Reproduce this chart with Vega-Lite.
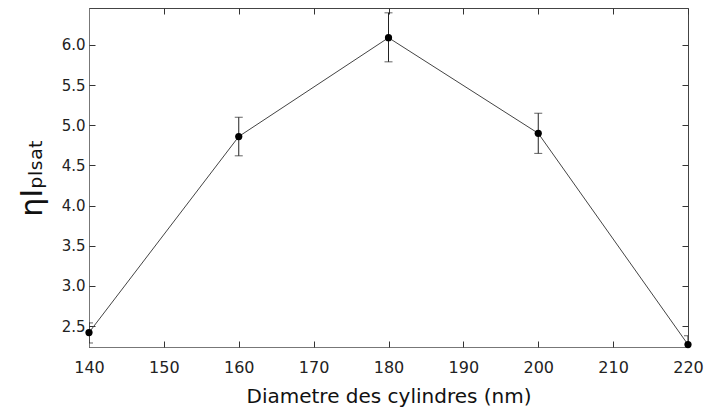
{
  "$schema": "https://vega.github.io/schema/vega-lite/v6.json",
  "autosize": "none",
  "width": 599,
  "height": 339,
  "padding": {"left": 89, "top": 8, "right": 16, "bottom": 68},
  "background": "white",
  "config": {
    "view": {"stroke": "#444", "strokeWidth": 1},
    "font": "DejaVu Sans",
    "axis": {
      "grid": false,
      "domainColor": "#777",
      "tickColor": "#333",
      "tickSize": 6,
      "labelColor": "#222",
      "titleColor": "#111",
      "labelFontWeight": "normal"
    }
  },
  "data": {
    "values": [
      {"d": 140, "eta": 2.42, "lo": 2.29, "hi": 2.54},
      {"d": 160, "eta": 4.86, "lo": 4.62, "hi": 5.1},
      {"d": 180, "eta": 6.09, "lo": 5.79, "hi": 6.4},
      {"d": 200, "eta": 4.9, "lo": 4.65, "hi": 5.15},
      {"d": 220, "eta": 2.27, "lo": 2.15, "hi": 2.38}
    ]
  },
  "resolve": {"axis": {"x": "independent", "y": "independent"}},
  "layer": [
    {
      "mark": {"type": "line", "color": "#444", "strokeWidth": 1},
      "encoding": {
        "x": {
          "field": "d", "type": "quantitative",
          "scale": {"domain": [140, 220], "nice": false, "zero": false},
          "axis": {"values": [140,150,160,170,180,190,200,210,220], "title": "Diametre des cylindres (nm)", "titleFontSize": 20, "titleFontWeight": "normal", "labelFontSize": 16, "ticks": false, "labelPadding": 12, "titlePadding": 11, "labelFlush": false}
        },
        "y": {
          "field": "eta", "type": "quantitative",
          "scale": {"domain": [2.24, 6.46], "nice": false, "zero": false},
          "axis": {"values": [2.5,3,3.5,4,4.5,5,5.5,6], "format": ".1f", "title": "ηIₚₗₛₐₜ", "titleFontSize": 30, "titleFontWeight": "normal", "labelFontSize": 15, "ticks": false, "labelPadding": 4, "titlePadding": 14}
        }
      }
    },
    {
      "mark": {"type": "errorbar", "ticks": {"size": 8, "color": "#222"}, "rule": {"color": "#222"}, "clip": true},
      "encoding": {
        "x": {
          "field": "d", "type": "quantitative",
          "axis": {"orient": "top", "offset": -339, "values": [140,150,160,170,180,190,200,210,220], "labels": false, "domain": false, "title": null}
        },
        "y": {
          "field": "lo", "type": "quantitative",
          "axis": {"orient": "right", "offset": -599, "values": [2.5,3,3.5,4,4.5,5,5.5,6], "labels": false, "domain": false, "title": null}
        },
        "y2": {"field": "hi"}
      }
    },
    {
      "mark": {"type": "point", "filled": true, "color": "black", "size": 52, "opacity": 1},
      "encoding": {
        "x": {
          "field": "d", "type": "quantitative",
          "axis": {"orient": "bottom", "offset": -339, "values": [140,150,160,170,180,190,200,210,220], "labels": false, "domain": false, "title": null}
        },
        "y": {
          "field": "eta", "type": "quantitative",
          "axis": {"orient": "left", "offset": -599, "values": [2.5,3,3.5,4,4.5,5,5.5,6], "labels": false, "domain": false, "title": null}
        }
      }
    }
  ]
}
